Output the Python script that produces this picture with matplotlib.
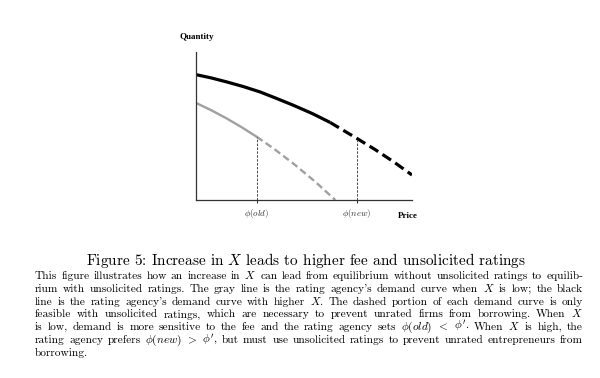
import matplotlib
matplotlib.use("Agg")
import matplotlib.pyplot as plt
import numpy as np

plt.rcParams['mathtext.fontset'] = 'cm'

# curves (price on x, quantity on y, both 0..1)
price_black = [0.0, 0.07, 0.142, 0.22, 0.297, 0.37, 0.451, 0.54, 0.621, 0.745, 0.83, 0.915, 1.0]
qty_black = [0.847, 0.825, 0.798, 0.766, 0.730, 0.688, 0.640, 0.583, 0.524, 0.416, 0.340, 0.258, 0.169]
black_solid_end = 8   # index where the dashed part starts

price_gray = [0.0, 0.07, 0.142, 0.21, 0.281, 0.36, 0.451, 0.55, 0.645]
qty_gray = [0.656, 0.607, 0.551, 0.493, 0.427, 0.347, 0.246, 0.126, 0.0]
gray_solid_end = 4

phi_old = 0.281
phi_new = 0.745
tick_labels = [r'$\phi(old)$', r'$\phi(new)$']

caption_title = r'Figure 5: Increase in $X$ leads to higher fee and unsolicited ratings'
caption_lines = [
    r"This figure illustrates how an increase in $X$ can lead from equilibrium without unsolicited ratings to equilib-",
    r"rium with unsolicited ratings. The gray line is the rating agency's demand curve when $X$ is low; the black",
    r"line is the rating agency's demand curve with higher $X$. The dashed portion of each demand curve is only",
    r"feasible with unsolicited ratings, which are necessary to prevent unrated firms from borrowing. When $X$",
    r"is low, demand is more sensitive to the fee and the rating agency sets $\phi(old)$ $<$ $\phi'$. When $X$ is high, the",
    r"rating agency prefers $\phi(new)$ $>$ $\phi'$, but must use unsolicited ratings to prevent unrated entrepreneurs from",
    r"borrowing.",
]

fig = plt.figure(figsize=(6, 3.78), dpi=100)
ax = fig.add_axes([196/600, 1-200/378, 216/600, 148/378])

ax.plot(price_black[:black_solid_end+1], qty_black[:black_solid_end+1], color='black', lw=2.3,
        solid_capstyle='butt')
ax.plot(price_black[black_solid_end:], qty_black[black_solid_end:], color='black', lw=2.3,
        dashes=(3.2, 1.6), dash_capstyle='butt')
ax.plot(price_gray[:gray_solid_end+1], qty_gray[:gray_solid_end+1], color='#a0a0a0', lw=1.7)
ax.plot(price_gray[gray_solid_end:], qty_gray[gray_solid_end:], color='#a0a0a0', lw=1.7,
        dashes=(3, 1.6))

ax.plot([phi_old, phi_old], [0, np.interp(phi_old, price_gray, qty_gray)],
        color='#444444', lw=0.7, dashes=(2.5, 1.5))
ax.plot([phi_new, phi_new], [0, np.interp(phi_new, price_black, qty_black)],
        color='#444444', lw=0.7, dashes=(2.5, 1.5))

ax.set_xlim(0, 1)
ax.set_ylim(0, 1)
for s in ['top', 'right']:
    ax.spines[s].set_visible(False)
for s in ['left', 'bottom']:
    ax.spines[s].set_linewidth(0.9)
    ax.spines[s].set_color('#333333')
ax.set_xticks([phi_old, phi_new])
ax.set_xticklabels(tick_labels, fontsize=6.5, color='#333333')
ax.tick_params(axis='x', length=2, width=0.6, pad=3)
ax.set_yticks([])
ax.patch.set_visible(False)

fig.text(197/600, 1-37/378, 'Quantity', family='Liberation Serif', weight='bold',
         fontsize=6.5, ha='center', va='center')
fig.text(398/600, 1-216/378, 'Price', family='Liberation Serif', weight='bold',
         fontsize=6.5, ha='left', va='center')

# caption
fig.text(306/600, 1-265.5/378, caption_title, family='cmr10', fontsize=11, ha='center', va='baseline')

x0, x1 = 35/600, 583/600
body_size = 8.2
r = fig.canvas.get_renderer()
for i, line in enumerate(caption_lines):
    y = 1 - (279 + 12.8*i)/378
    words = line.split(' ')
    texts = [fig.text(0, y, w, family='cmr10', fontsize=body_size, va='baseline') for w in words]
    widths = [t.get_window_extent(r).width/600 for t in texts]
    if i < len(caption_lines) - 1:
        gap = (x1 - x0 - sum(widths)) / (len(words) - 1)
    else:
        gap = 3/600
    x = x0
    for t, w in zip(texts, widths):
        t.set_x(x)
        x += w + gap

fig.savefig('out.png', dpi=100)
